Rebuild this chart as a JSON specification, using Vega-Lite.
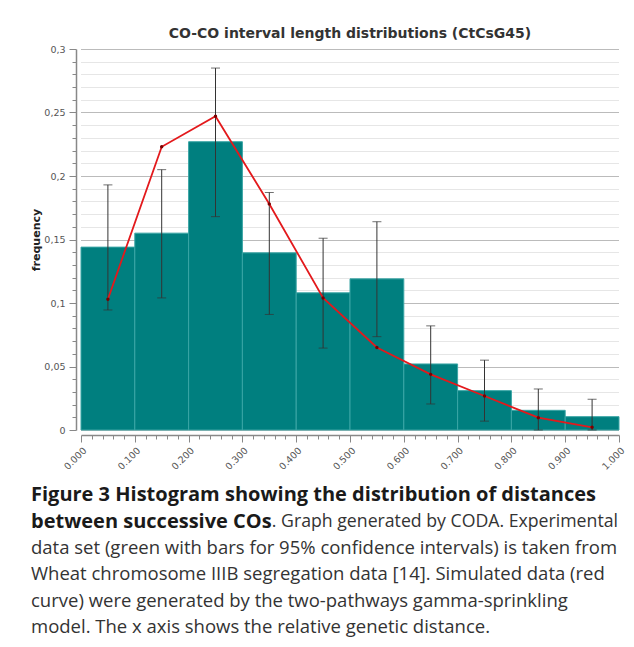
{
  "$schema": "https://vega.github.io/schema/vega-lite/v6.json",
  "padding": {"left": 30, "top": 27, "right": 5, "bottom": 2},
  "background": "white",
  "spacing": 11,
  "config": {"view": {"stroke": null}, "font": "DejaVu Sans"},
  "datasets": {
    "bins": [
      {"start": 0.0, "end": 0.1, "mid": 0.05, "freq": 0.144, "lo": 0.0945, "hi": 0.193, "sim": 0.103},
      {"start": 0.1, "end": 0.2, "mid": 0.15, "freq": 0.155, "lo": 0.104, "hi": 0.205, "sim": 0.223},
      {"start": 0.2, "end": 0.3, "mid": 0.25, "freq": 0.227, "lo": 0.168, "hi": 0.285, "sim": 0.247},
      {"start": 0.3, "end": 0.4, "mid": 0.35, "freq": 0.1395, "lo": 0.091, "hi": 0.187, "sim": 0.178},
      {"start": 0.4, "end": 0.5, "mid": 0.45, "freq": 0.108, "lo": 0.0645, "hi": 0.151, "sim": 0.104},
      {"start": 0.5, "end": 0.6, "mid": 0.55, "freq": 0.119, "lo": 0.0735, "hi": 0.164, "sim": 0.065},
      {"start": 0.6, "end": 0.7, "mid": 0.65, "freq": 0.052, "lo": 0.0205, "hi": 0.082, "sim": 0.0438},
      {"start": 0.7, "end": 0.8, "mid": 0.75, "freq": 0.031, "lo": 0.007, "hi": 0.055, "sim": 0.0268},
      {"start": 0.8, "end": 0.9, "mid": 0.85, "freq": 0.0155, "lo": 0.0, "hi": 0.0323, "sim": 0.0097},
      {"start": 0.9, "end": 1.0, "mid": 0.95, "freq": 0.0105, "lo": 0.0, "hi": 0.0242, "sim": 0.0021}
    ],
    "caption": [
      {"line": 1, "role": "heading", "side": "start", "text": "Figure 3 Histogram showing the distribution of distances"},
      {"line": 2, "role": "heading", "side": "start", "text": "between successive COs"},
      {"line": 2, "role": "body", "side": "end", "text": ". Graph generated by CODA. Experimental"},
      {"line": 3, "role": "body", "side": "start", "text": "data set (green with bars for 95% confidence intervals) is taken from"},
      {"line": 4, "role": "body", "side": "start", "text": "Wheat chromosome IIIB segregation data [14]. Simulated data (red"},
      {"line": 5, "role": "body", "side": "start", "text": "curve) were generated by the two-pathways gamma-sprinkling"},
      {"line": 6, "role": "body", "side": "start", "text": "model. The x axis shows the relative genetic distance."}
    ]
  },
  "vconcat": [
    {
      "width": 538,
      "height": 381,
      "data": {"name": "bins"},
      "title": {"text": "CO-CO interval length distributions (CtCsG45)", "font": "DejaVu Sans", "fontSize": 14, "fontWeight": "bold", "color": "#333333", "offset": 3},
      "layer": [
        {
          "mark": {"type": "rect", "fill": "#007f7f", "stroke": "#3aa5a5", "strokeWidth": 1},
          "encoding": {
            "x": {"field": "start", "type": "quantitative", "scale": {"domain": [0, 1], "nice": false},
              "axis": {
                "values": [0,0.02,0.04,0.06,0.08,0.1,0.12,0.14,0.16,0.18,0.2,0.22,0.24,0.26,0.28,0.3,0.32,0.34,0.36,0.38,0.4,0.42,0.44,0.46,0.48,0.5,0.52,0.54,0.56,0.58,0.6,0.62,0.64,0.66,0.68,0.7,0.72,0.74,0.76,0.78,0.8,0.82,0.84,0.86,0.88,0.9,0.92,0.94,0.96,0.98,1],
                "tickCount": 200,
                "title": null, "grid": false, "offset": 5,
                "domainColor": "#888888", "domainWidth": 1.5,
                "tickColor": "#888888",
                "tickSize": {"condition": {"test": "abs(datum.value*10 - round(datum.value*10)) < 1e-6", "value": 7}, "value": 4},
                "labelExpr": "abs(datum.value*10 - round(datum.value*10)) < 1e-6 ? format(datum.value, '.3f') : ''",
                "labelAngle": -45, "labelFontSize": 9.5, "labelColor": "#555555", "labelOverlap": false, "labelPadding": 3, "labelFlush": false
              }
            },
            "x2": {"field": "end"},
            "y": {"field": "freq", "type": "quantitative", "scale": {"domain": [0, 0.3], "nice": false},
              "axis": {
                "values": [0,0.01,0.02,0.03,0.04,0.05,0.06,0.07,0.08,0.09,0.1,0.11,0.12,0.13,0.14,0.15,0.16,0.17,0.18,0.19,0.2,0.21,0.22,0.23,0.24,0.25,0.26,0.27,0.28,0.29,0.3],
                "tickCount": 200,
                "title": "frequency", "titleFontSize": 11, "titleFontWeight": "bold", "titleColor": "#222222", "titlePadding": 2,
                "offset": 5,
                "domainColor": "#888888", "domainWidth": 1.5,
                "tickColor": "#888888",
                "tickSize": {"condition": {"test": "abs(datum.value*20 - round(datum.value*20)) < 1e-6", "value": 7}, "value": 4},
                "labelExpr": "abs(datum.value*20 - round(datum.value*20)) < 1e-6 ? replace(format(datum.value, '~g'), '.', ',') : ''",
                "labelFontSize": 9.5, "labelColor": "#555555", "labelOverlap": false, "labelPadding": 4, "labelFlush": false,
                "grid": true, "gridDash": [1, 1],
                "gridColor": {"condition": {"test": "abs(datum.value*20 - round(datum.value*20)) < 1e-6", "value": "#777777"}, "value": "#cccccc"},
                "gridWidth": 1
              }
            },
            "y2": {"datum": 0}
          }
        },
        {
          "mark": {"type": "rule", "color": "#333333", "strokeWidth": 1},
          "encoding": {
            "x": {"field": "mid", "type": "quantitative"},
            "y": {"field": "lo", "type": "quantitative"},
            "y2": {"field": "hi"}
          }
        },
        {
          "mark": {"type": "tick", "orient": "horizontal", "color": "#333333", "size": 9, "thickness": 1},
          "encoding": {
            "x": {"field": "mid", "type": "quantitative"},
            "y": {"field": "lo", "type": "quantitative"}
          }
        },
        {
          "mark": {"type": "tick", "orient": "horizontal", "color": "#333333", "size": 9, "thickness": 1},
          "encoding": {
            "x": {"field": "mid", "type": "quantitative"},
            "y": {"field": "hi", "type": "quantitative"}
          }
        },
        {
          "mark": {"type": "line", "color": "#e3191c", "strokeWidth": 1.8},
          "encoding": {
            "x": {"field": "mid", "type": "quantitative"},
            "y": {"field": "sim", "type": "quantitative"}
          }
        },
        {
          "mark": {"type": "point", "shape": "circle", "size": 12, "filled": true, "color": "#7a0000", "opacity": 1},
          "encoding": {
            "x": {"field": "mid", "type": "quantitative"},
            "y": {"field": "sim", "type": "quantitative"}
          }
        }
      ]
    },
    {
      "width": 537,
      "height": 158.4,
      "data": {"name": "caption"},
      "encoding": {
        "y": {"field": "line", "type": "ordinal", "axis": null, "scale": {"type": "point", "padding": 0.5}},
        "text": {"field": "text"}
      },
      "layer": [
        {
          "transform": [{"filter": "datum.role === 'heading'"}],
          "mark": {"type": "text", "align": "left", "baseline": "middle", "dx": -50, "font": "Open Sans", "fontSize": 20, "fontWeight": "bold", "color": "#1a1a1a"},
          "encoding": {"x": {"datum": 0, "type": "quantitative", "scale": {"domain": [0, 1]}, "axis": null}}
        },
        {
          "transform": [{"filter": "datum.role === 'body' && datum.side === 'start'"}],
          "mark": {"type": "text", "align": "left", "baseline": "middle", "dx": -50, "font": "Open Sans", "fontSize": 18.5, "color": "#333333"},
          "encoding": {"x": {"datum": 0, "type": "quantitative", "axis": null}}
        },
        {
          "transform": [{"filter": "datum.side === 'end'"}],
          "mark": {"type": "text", "align": "right", "baseline": "middle", "font": "Open Sans", "fontSize": 17.7, "color": "#333333"},
          "encoding": {"x": {"datum": 1, "type": "quantitative", "axis": null}}
        }
      ]
    }
  ]
}
